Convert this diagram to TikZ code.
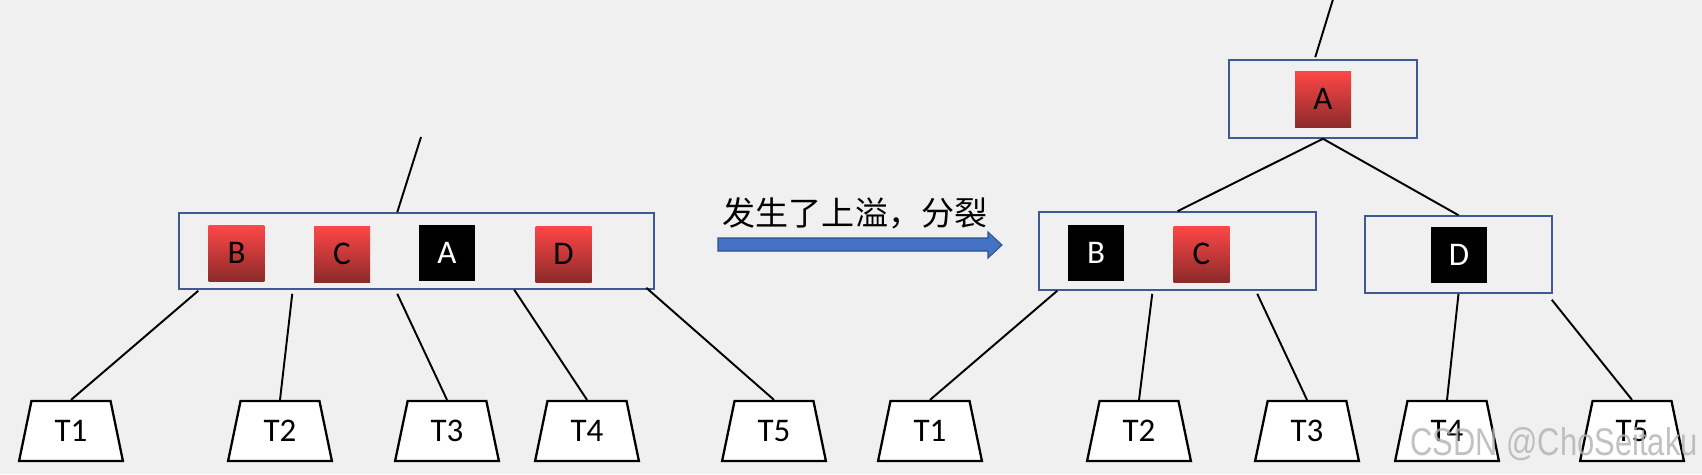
\documentclass[tikz,border=0pt]{standalone}
\usepackage{fontspec}
\usepackage{tikz}
\usetikzlibrary{calc,shapes.geometric}
\setmainfont{Carlito}
\newfontfamily\cjk{Noto Sans CJK SC}
\newfontfamily\wmfont[FakeStretch=0.8]{Liberation Sans}
\newcommand{\keyfont}{\fontsize{18.8}{22}\selectfont}
\definecolor{PageGray}{HTML}{F0F0F0}
\definecolor{NodeBlue}{HTML}{3D5A94}
\definecolor{KeyRedTop}{HTML}{FF4747}
\definecolor{KeyRedBot}{HTML}{8C2A2A}
\definecolor{ArrowBlue}{HTML}{4472C4}
\definecolor{ArrowEdge}{HTML}{2F528F}

\begin{document}
\begin{tikzpicture}[x=0.02cm,y=-0.02cm,
  keybox/.style={draw=NodeBlue,line width=0.9pt,inner sep=0pt},
  redkey/.style={minimum size=1.12cm,inner sep=0pt,top color=KeyRedTop,bottom color=KeyRedBot,text=black,font=\keyfont},
  blackkey/.style={minimum size=1.12cm,inner sep=0pt,fill=black,text=white,font=\keyfont},
  subtree/.style={trapezium,trapezium angle=76.4,trapezium stretches=true,minimum width=2.08cm,minimum height=1.2cm,inner sep=0pt,draw,fill=white,line width=1.3pt,font=\keyfont},
  link/.style={line width=1.1pt}]
  \useasboundingbox (0,0) rectangle (1702,474);
  \fill[PageGray] (0,0) rectangle (1702,474);

  % before the split
  \node[keybox,minimum width=9.5cm,minimum height=1.52cm] (lnode) at (416.5,251) {};
  \node[redkey] (lB) at (236.5,253) {B};
  \node[redkey] (lC) at (342,254) {C};
  \node[blackkey] (lA) at (447,253) {A};
  \node[redkey] (lD) at (563.5,254) {D};
  \coordinate (lup) at (421,137);
  \node[subtree] (lT1) at (71,431) {T1};
  \node[subtree] (lT2) at (280,431) {T2};
  \node[subtree] (lT3) at (447,431) {T3};
  \node[subtree] (lT4) at (587,431) {T4};
  \node[subtree] (lT5) at (774,431) {T5};
  \draw[link] ($(lnode.north west)+(219,0)$) -- (lup);
  \draw[link] ($(lnode.south west)+(20,1)$) -- (lT1.north);
  \draw[link] ($(lnode.south west)+(114,4)$) -- (lT2.north);
  \draw[link] ($(lnode.south west)+(219,4)$) -- (lT3.north);
  \draw[link] ($(lnode.south west)+(336,0)$) -- (lT4.north);
  \draw[link] ($(lnode.south west)+(468,-2)$) -- (lT5.north);

  % arrow
  \node[font=\cjk\fontsize{18.8}{22}\selectfont] (splitlabel) at (855,213) {发生了上溢，分裂};
  \filldraw[fill=ArrowBlue,draw=ArrowEdge,line width=0.6pt] (718,238) -- (988,238) -- (988,232) -- (1002,245) -- (988,258) -- (988,251) -- (718,251) -- cycle;

  % after the split
  \node[keybox,minimum width=3.76cm,minimum height=1.56cm] (rroot) at (1323,99) {};
  \node[redkey] (rA) at (1323,99) {A};
  \node[keybox,minimum width=5.54cm,minimum height=1.56cm] (rleft) at (1177.5,251) {};
  \node[blackkey] (rB) at (1096,253) {B};
  \node[redkey] (rC) at (1201.5,254) {C};
  \node[keybox,minimum width=3.74cm,minimum height=1.54cm] (rright) at (1458.5,254.5) {};
  \node[blackkey] (rD) at (1459,254.5) {D};
  \coordinate (rup) at (1334,-4);
  \node[subtree] (rT1) at (930,431) {T1};
  \node[subtree] (rT2) at (1139,431) {T2};
  \node[subtree] (rT3) at (1307,431) {T3};
  \node[subtree] (rT4) at (1447,431) {T4};
  \node[subtree] (rT5) at (1632,431) {T5};
  \draw[link] ($(rroot.north west)+(87,-2)$) -- (rup);
  \draw[link] (rroot.south) -- (rleft.north);
  \draw[link] (rroot.south) -- (rright.north);
  \draw[link] ($(rleft.south west)+(19,0)$) -- (rT1.north);
  \draw[link] ($(rleft.south west)+(114,3)$) -- (rT2.north);
  \draw[link] ($(rleft.south west)+(219,3)$) -- (rT3.north);
  \draw[link] (rright.south) -- (rT4.north);
  \draw[link] ($(rright.south east)+(-1,6)$) -- (rT5.north);

  \node[font=\wmfont\fontsize{22}{24}\selectfont,text=black!30,opacity=0.8] (mark) at (1554,444) {CSDN @ChoSeitaku};
\end{tikzpicture}
\end{document}
